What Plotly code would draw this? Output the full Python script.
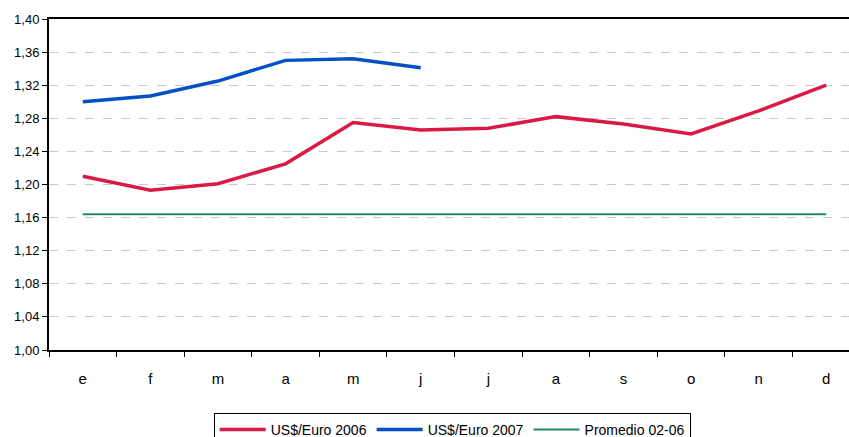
import plotly.graph_objects as go

months = ["e", "f", "m", "a", "m", "j", "j", "a", "s", "o", "n", "d"]
usd_euro_2006 = [1.210, 1.193, 1.201, 1.225, 1.275, 1.266, 1.268, 1.282, 1.273, 1.261, 1.289, 1.320]
usd_euro_2007 = [1.300, 1.307, 1.325, 1.350, 1.352, 1.341]
promedio_02_06 = [1.164] * 12
y_ticks = [1.00, 1.04, 1.08, 1.12, 1.16, 1.20, 1.24, 1.28, 1.32, 1.36, 1.40]

FONT = "Liberation Sans, Arial, sans-serif"
RED = "#DA1A44"
BLUE = "#0052C4"
GREEN = "#1E8A6C"

x = list(range(len(months)))

fig = go.Figure()
fig.add_trace(go.Scatter(x=x, y=usd_euro_2006, mode="lines", name="US$/Euro 2006",
                         line=dict(color=RED, width=3.5)))
fig.add_trace(go.Scatter(x=x[:len(usd_euro_2007)], y=usd_euro_2007, mode="lines", name="US$/Euro 2007",
                         line=dict(color=BLUE, width=3.5)))
fig.add_trace(go.Scatter(x=x, y=promedio_02_06, mode="lines", name="Promedio 02-06",
                         line=dict(color=GREEN, width=2)))

fig.update_layout(
    width=849, height=437,
    margin=dict(l=49, r=0, t=19, b=87),
    paper_bgcolor="white", plot_bgcolor="white",
    separators=",.",
    font=dict(family=FONT, size=14, color="black"),
    showlegend=True,
    legend=dict(orientation="h", xref="paper", x=0.504, xanchor="center",
                yref="container", y=1 - 413 / 437, yanchor="top",
                bordercolor="black", borderwidth=1, bgcolor="white",
                font=dict(family=FONT, size=14, color="black"),
                itemwidth=46, tracegroupgap=0),
)
fig.update_xaxes(
    range=[-0.5, 11.337],
    tickmode="array", tickvals=x, ticktext=months,
    showgrid=False, zeroline=False,
    showline=True, linecolor="black", linewidth=2, mirror=True,
    ticks="", automargin=False, ticklabelstandoff=14,
    tickfont=dict(family=FONT, size=15),
    minor=dict(tickmode="array", tickvals=[i - 0.5 for i in range(13)],
               ticks="outside", ticklen=5, tickcolor="black", tickwidth=1, showgrid=False),
)
fig.update_yaxes(
    range=[1.0, 1.40],
    tickmode="array", tickvals=y_ticks, tickformat=".2f",
    showgrid=True, gridcolor="#C8C8C8", griddash="dash", gridwidth=1,
    zeroline=False, automargin=False,
    showline=True, linecolor="black", linewidth=2,
    ticks="outside", ticklen=5, tickcolor="black",
    tickfont=dict(family=FONT, size=13),
)

fig.write_html("out.html", config={"displayModeBar": False},
               post_script="document.body.style.margin='0';document.body.style.overflow='hidden';")
